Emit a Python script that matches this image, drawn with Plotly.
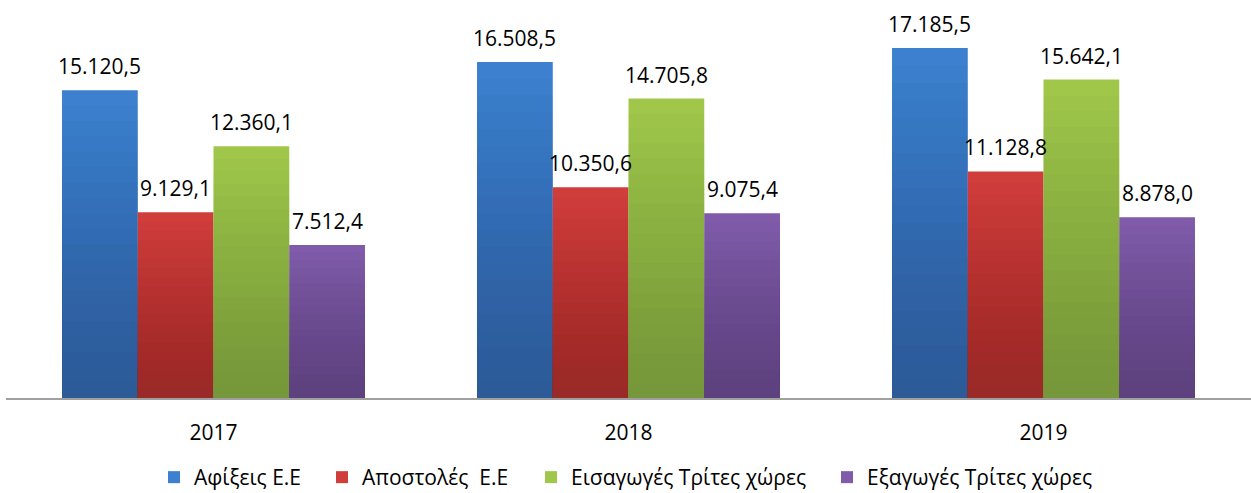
import plotly.graph_objects as go

years = ["2017", "2018", "2019"]
series_names = ["Αφίξεις Ε.Ε", "Αποστολές\u00a0 Ε.Ε", "Εισαγωγές Τρίτες χώρες", "Εξαγωγές Τρίτες χώρες"]
arrivals = [15120.5, 16508.5, 17185.5]
dispatches = [9129.1, 10350.6, 11128.8]
imports_tc = [12360.1, 14705.8, 15642.1]
exports_tc = [7512.4, 9075.4, 8878.0]

top_colors = ["#3C80CF", "#D03E3B", "#A0C74A", "#7F5BAA"]
bottom_colors = ["#2D5B98", "#9A2A28", "#76973A", "#5D427F"]

values = [arrivals, dispatches, imports_tc, exports_tc]

# legend entry text start positions (px from left of figure)
legend_text_x = [195, 363, 572, 868]

BARGAP = 0.27
W = (1 - BARGAP) / 4
N = 20  # gradient bands
FIG_W, FIG_H = 1251, 493
M_B = 95
PLOT_H = FIG_H - M_B

FONT = "Open Sans"

def fmt(v):
    s = f"{v:,.1f}"
    return s.replace(",", "X").replace(".", ",").replace("X", ".")

def rgba(hexc, a):
    h = hexc.lstrip("#")
    r, g, b = int(h[0:2], 16), int(h[2:4], 16), int(h[4:6], 16)
    return f"rgba({r},{g},{b},{a:.4f})"

legend_ids = ["legend", "legend2", "legend3", "legend4"]

fig = go.Figure()
for i, (name, vals) in enumerate(zip(series_names, values)):
    off = -(1 - BARGAP) / 2 + i * W
    fig.add_trace(go.Bar(
        x=years, y=vals, name=name, width=W, offset=off,
        marker=dict(color=top_colors[i], line=dict(width=0)),
        hoverinfo="skip", showlegend=True, legend=legend_ids[i],
    ))
    for m in range(1, N):
        frac = (N - m) / N
        fig.add_trace(go.Bar(
            x=years, y=[v * frac for v in vals], width=W, offset=off,
            marker=dict(color=rgba(bottom_colors[i], 1.0 / (N - m)), line=dict(width=0)),
            hoverinfo="skip", showlegend=False,
        ))

annotations = []
for i, vals in enumerate(values):
    off = -(1 - BARGAP) / 2 + i * W + W / 2
    for j, v in enumerate(vals):
        annotations.append(dict(
            x=j + off, y=v, xref="x", yref="y", text=fmt(v), showarrow=False,
            yanchor="middle", yshift=24,
            font=dict(family=FONT, size=21, color="#000000"),
        ))

legend_layouts = {}
for i, lid in enumerate(legend_ids):
    legend_layouts[lid] = dict(
        orientation="h", xref="container", yref="paper",
        x=(legend_text_x[i] - 41) / FIG_W, xanchor="left",
        y=-(498 - PLOT_H) / PLOT_H, yanchor="bottom",
        font=dict(family=FONT, size=21, color="#000000"),
        itemwidth=30, bgcolor="rgba(0,0,0,0)",
    )

fig.update_layout(
    width=FIG_W, height=FIG_H,
    barmode="overlay",
    margin=dict(l=6, r=0, t=0, b=M_B, autoexpand=False),
    paper_bgcolor="white", plot_bgcolor="white",
    annotations=annotations,
    xaxis=dict(
        type="category", showgrid=False, showline=True, linecolor="#A0A0A0", linewidth=1.5,
        ticks="", tickfont=dict(family=FONT, size=21, color="#000000"),
        ticklabelstandoff=15, range=[-0.5, 2.5],
    ),
    yaxis=dict(range=[0, 19548], visible=False, showgrid=False),
    showlegend=True,
    **legend_layouts,
)

fig.write_html(
    "out.html",
    config={"displayModeBar": False},
    post_script="document.body.style.margin='0';document.body.style.padding='0';",
)
